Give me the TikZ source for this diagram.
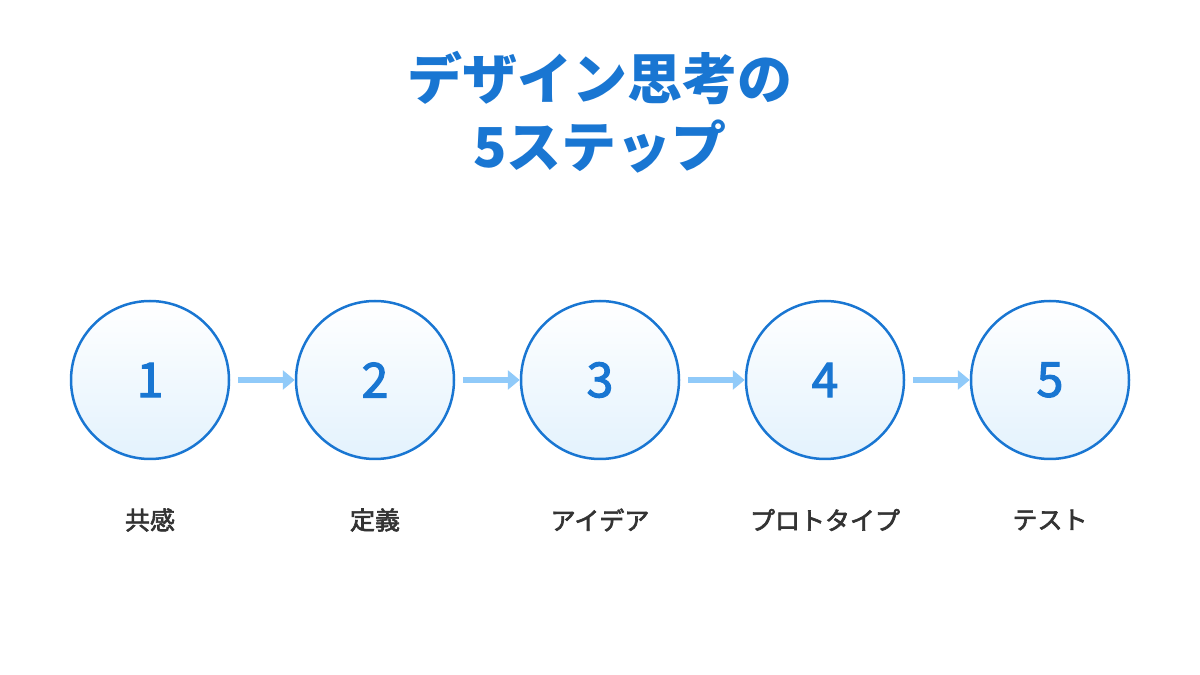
\documentclass[tikz,border=0pt]{standalone}
\usepackage{fontspec}
\setmainfont{Noto Sans CJK JP}
\newfontfamily\medfont[FakeBold=2.5]{Noto Sans CJK JP}
\usepackage{tikz}
\usetikzlibrary{arrows.meta,positioning}
\usepackage{xcolor}
\definecolor{mainblue}{HTML}{1976D2}
\definecolor{arrowblue}{HTML}{90CAF9}
\definecolor{paleblue}{HTML}{E3F2FD}
\definecolor{labelgray}{HTML}{333333}

\begin{document}
\begin{tikzpicture}[
    x=1pt, y=1pt,
    stepcircle/.style={circle, draw=mainblue, line width=2.5pt, minimum size=158pt, top color=white, bottom color=paleblue, text=mainblue, font=\fontsize{48}{52}\medfont},
    steplabel/.style={text=labelgray, font=\fontsize{25}{30}\medfont},
    arrow/.style={-{Triangle[length=12pt,width=19pt]}, line width=6pt, draw=arrowblue}
]
    \useasboundingbox (0,0) rectangle (1200,675);

    % タイトル
    \node[align=center, text=mainblue, font=\fontsize{55}{68}\selectfont\bfseries] (title) at (600,563) {デザイン思考の\\5ステップ};

    % ステップ
    \node[stepcircle] (s1) at (150,295) {1};
    \node[stepcircle] (s2) at (375,295) {2};
    \node[stepcircle] (s3) at (600,295) {3};
    \node[stepcircle] (s4) at (825,295) {4};
    \node[stepcircle] (s5) at (1050,295) {5};

    % ラベル
    \node[steplabel] (l1) at (150,155) {共感};
    \node[steplabel] (l2) at (375,155) {定義};
    \node[steplabel] (l3) at (600,155) {アイデア};
    \node[steplabel] (l4) at (825,155) {プロトタイプ};
    \node[steplabel] (l5) at (1050,155) {テスト};

    % 矢印
    \draw[arrow] ([xshift=8pt]s1.east) -- (s2.west);
    \draw[arrow] ([xshift=8pt]s2.east) -- (s3.west);
    \draw[arrow] ([xshift=8pt]s3.east) -- (s4.west);
    \draw[arrow] ([xshift=8pt]s4.east) -- (s5.west);
\end{tikzpicture}
\end{document}
